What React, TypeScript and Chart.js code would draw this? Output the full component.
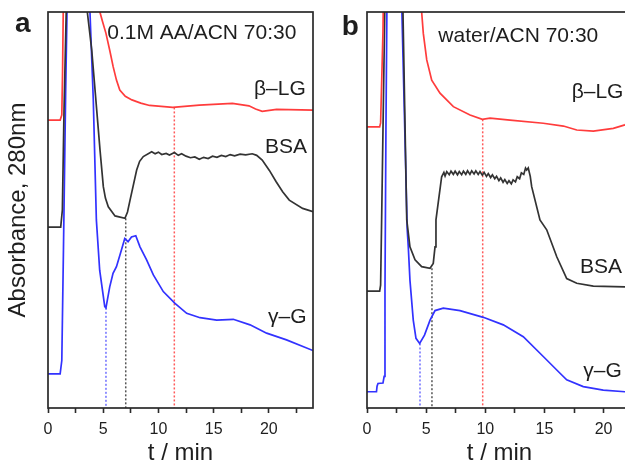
import React, { useEffect, useRef } from 'react';
import { Chart, registerables } from 'chart.js';

Chart.register(...registerables);

// ---------- Panel a (0.1M AA/ACN 70:30) : [t (min), absorbance (a.u.)] ----------
const betaLG_a: [number, number][] = [
  [0, 72.7], [1.1, 72.7], [1.25, 74], [1.32, 85], [1.38, 100], [1.45, 140], [4.3, 140], [4.55, 110],
  [4.7, 100], [4.95, 97.5], [5.25, 94.6], [5.6, 90.2], [5.9, 86.2], [6.2, 82.8], [6.5, 80.3], [7.0, 78.7],
  [7.6, 77.8], [8.4, 77.0], [9.2, 76.4], [11.3, 75.9], [13.7, 76.5], [16.7, 76.9], [18.2, 76.3],
  [18.8, 75.5], [19.4, 74.9], [20.7, 75.4], [24, 75.2],
];
const bsa_a: [number, number][] = [
  [0, 45.7], [1.15, 45.7], [1.3, 50], [1.45, 75], [1.65, 100], [1.75, 130], [3.3, 130], [3.56, 100],
  [3.96, 90.4], [4.41, 75.3], [4.71, 65.2], [5.01, 55.9], [5.2, 53], [5.46, 50.8], [6.07, 48.5], [6.97, 47.9],
  [7.2, 49.5], [7.43, 52.5], [8.03, 60.1], [8.3, 62.3], [8.63, 63.5], [9.39, 64.7], [9.7, 64.2], [10.0, 64.6],
  [10.3, 64.0], [10.7, 64.3], [11.0, 63.9], [11.45, 64.5], [11.8, 63.8], [12.1, 64.2], [12.5, 63.6],
  [12.9, 63.2], [13.3, 63.4], [13.7, 62.8], [14.1, 63.3], [14.5, 63.0], [14.9, 63.6], [15.3, 63.3],
  [15.7, 63.8], [16.1, 63.5], [16.5, 64.0], [16.9, 63.7], [17.4, 64.1], [17.9, 63.9], [18.5, 64.2],
  [18.9, 63.8], [19.4, 62.6], [20.05, 60], [20.65, 57.2], [21.25, 54.6], [21.85, 52.5], [23.06, 50.4],
  [24, 49.6],
];
const gammaG_a: [number, number][] = [
  [0, 8.6], [1.1, 8.6], [1.25, 12], [1.4, 40], [1.6, 80], [1.72, 100], [1.8, 130], [3.6, 130],
  [3.8, 100], [4.1, 78], [4.38, 47.5], [4.68, 34.8], [5.14, 25.6], [5.25, 25.3], [5.59, 30.6],
  [5.89, 34], [6.2, 35.7], [6.65, 39.9], [6.95, 42.8], [7.25, 42], [7.56, 43.2], [7.95, 43.5],
  [8.33, 40.7], [8.93, 37.4], [9.54, 33.6], [10.44, 29.4], [11.5, 26.4], [12.56, 23.9], [13.77, 22.8],
  [15.28, 22.2], [16.78, 22.4], [18.3, 21], [19.8, 18.9], [21.6, 17.2], [24, 14.5],
];
// dotted drop lines: time and curve level where they start
const dropTimes_a = [5.25, 7.04, 11.44];
const dropTops_a = [25.3, 47.9, 75.9];

// ---------- Panel b (water/ACN 70:30) ----------
const betaLG_b: [number, number][] = [
  [0, 71], [1.07, 71], [1.15, 72], [1.22, 80], [1.35, 95], [1.5, 130], [4.3, 130], [4.62, 100],
  [4.76, 94.6], [5.05, 87.9], [5.47, 82.8], [6.17, 79.5], [7.3, 76.1], [8.71, 74], [9.75, 72.9],
  [10.4, 73.2], [12.09, 72.7], [14.9, 71.9], [16.6, 71.2], [17.73, 70.2], [19.13, 69.9], [20.82, 70.6],
  [21.8, 71.5], [22.4, 72.5],
];
const bsa_b: [number, number][] = [
  [0, 29.5], [1.07, 29.5], [1.15, 31], [1.25, 50], [1.4, 80], [1.5, 100], [1.6, 130], [2.8, 130],
  [3.04, 100], [3.36, 47.5], [3.63, 40.7], [4.06, 37.4], [4.62, 35.7], [5.33, 35.3], [5.6, 36.5],
  [5.75, 40.7], [5.83, 47.5], [6.31, 58.4], [6.5, 59.5], [6.6, 58.6], [6.74, 59.7], [6.95, 58.9],
  [7.1, 59.8], [7.3, 59.0], [7.45, 59.8], [7.65, 58.9], [7.8, 59.7], [8.0, 58.9], [8.15, 59.8],
  [8.35, 59.0], [8.5, 59.9], [8.7, 59.0], [8.85, 59.9], [9.05, 59.1], [9.2, 59.9], [9.4, 59.0],
  [9.55, 59.7], [9.75, 58.8], [9.9, 59.5], [10.1, 58.5], [10.25, 59.2], [10.45, 58.2], [10.6, 58.9],
  [10.8, 57.9], [10.95, 58.5], [11.15, 57.4], [11.3, 58.1], [11.5, 57.0], [11.65, 57.7], [11.85, 56.7],
  [12.0, 57.4], [12.2, 56.6], [12.35, 57.6], [12.55, 57.1], [12.7, 58.4], [12.9, 57.9], [13.05, 59.4],
  [13.25, 59.0], [13.4, 60.6], [13.5, 60.1], [13.63, 60.6], [13.8, 58.5], [13.92, 55.9], [14.62, 47.5],
  [15.19, 45], [16.04, 38.2], [16.88, 32.7], [17.73, 31.5], [19.13, 30.8], [21.8, 30.6], [22.4, 30.6],
];
const gammaG_b: [number, number][] = [
  [0, 4.1], [0.8, 4.1], [0.85, 5.5], [0.93, 6.2], [1.35, 6.3], [1.45, 8], [1.52, 30], [1.6, 70],
  [1.68, 100], [1.75, 130], [2.75, 130], [2.95, 100], [3.4, 45], [3.49, 40.7], [3.63, 32.3],
  [3.91, 22.2], [4.14, 17.6], [4.45, 16.3], [4.86, 18.4], [5.33, 22.2], [5.75, 24.6], [6.45, 25.2],
  [7.86, 24.6], [9.83, 22.9], [11.52, 21], [13.21, 18], [14.9, 13], [16.04, 9.6], [16.88, 7.1],
  [18.28, 5.4], [19.97, 4.5], [21.8, 4.1], [22.4, 4.0],
];
const dropTimes_b = [4.48, 5.49, 9.78];
const dropTops_b = [16.3, 35.3, 72.9];

// axis settings
const xMax_a = 24;
const xMax_b = 22.4;
const yMin = 0;
const yMax = 100;
const tickStep = 2.5;
const xTitle = 't / min';
const yTitle = 'Absorbance, 280nm';

// label texts
const condition_a = '0.1M AA/ACN 70:30';
const condition_b = 'water/ACN 70:30';
const seriesNames = ['β–LG', 'BSA', 'γ–G'];

const RED = '#ff3c3c';
const BLACK = '#333333';
const BLUE = '#3232ff';
const DROP_COLORS = ['#6f6fff', '#555555', '#ff5a5a'];
const FONT = "'Liberation Sans', Arial, Helvetica, sans-serif";

type Label = { text: string; t: number; v: number; size: number; bold?: boolean };

function makeConfig(
  series: [number, number][][],
  dropTimes: number[],
  dropTops: number[],
  xMax: number,
  showYTitle: boolean,
  labels: Label[]
): any {
  const colors = [RED, BLACK, BLUE];
  const lineSets = series.map((s, i) => ({
    label: seriesNames[i],
    data: s.map(([x, y]) => ({ x, y })),
    borderColor: colors[i],
    borderWidth: 1.7,
    pointRadius: 0,
    tension: 0,
    fill: false,
    order: 1,
  }));
  const dropSets = dropTimes.map((t, i) => ({
    label: 'drop' + i,
    data: [{ x: t, y: dropTops[i] }, { x: t, y: yMin }],
    borderColor: DROP_COLORS[i],
    borderWidth: 1.5,
    borderDash: [2, 2],
    pointRadius: 0,
    tension: 0,
    fill: false,
    order: 2,
  }));

  const framePlugin = {
    id: 'frameAndLabels',
    afterDraw(chart: any) {
      const { ctx, chartArea: a, scales } = chart;
      ctx.save();
      ctx.strokeStyle = '#2a2a2a';
      ctx.lineWidth = 1.7;
      ctx.strokeRect(a.left, a.top, a.right - a.left, a.bottom - a.top);
      ctx.fillStyle = '#1e1e1e';
      ctx.textBaseline = 'alphabetic';
      ctx.textAlign = 'left';
      for (const l of labels) {
        ctx.font = `${l.bold ? 'bold ' : ''}${l.size}px ${FONT}`;
        ctx.fillText(l.text, scales.x.getPixelForValue(l.t), scales.y.getPixelForValue(l.v));
      }
      ctx.restore();
    },
  };

  return {
    type: 'line',
    data: { datasets: [...dropSets, ...lineSets] },
    plugins: [framePlugin],
    options: {
      responsive: false,
      animation: false,
      devicePixelRatio: 1,
      layout: { padding: { top: 12, right: 7, left: 0, bottom: 0 } },
      plugins: { legend: { display: false }, tooltip: { enabled: false } },
      scales: {
        x: {
          type: 'linear',
          min: 0,
          max: xMax,
          border: { display: false },
          grid: {
            drawOnChartArea: false,
            drawTicks: true,
            tickLength: 5,
            tickWidth: 1.6,
            tickColor: '#2a2a2a',
          },
          ticks: {
            stepSize: tickStep,
            includeBounds: false,
            autoSkip: false,
            maxRotation: 0,
            padding: 7,
            color: '#1e1e1e',
            font: { family: FONT, size: 16 },
            callback: (v: number) => (v % 5 === 0 ? String(v) : ''),
          },
          title: {
            display: true,
            text: xTitle,
            color: '#1e1e1e',
            font: { family: FONT, size: 24, lineHeight: 1.13 },
            padding: { top: 0, bottom: 0 },
          },
          afterFit: (s: any) => {
            s.height = 59;
          },
        },
        y: {
          type: 'linear',
          min: yMin,
          max: yMax,
          border: { display: false },
          grid: { display: false },
          ticks: { display: false },
          title: {
            display: showYTitle,
            text: yTitle,
            color: '#1e1e1e',
            font: { family: FONT, size: 24 },
            padding: { top: 4, bottom: 0 },
          },
          afterFit: (s: any) => {
            s.width = 48;
          },
        },
      },
    },
  };
}

function Panel(props: { config: any; left: number }) {
  const ref = useRef<HTMLCanvasElement | null>(null);
  useEffect(() => {
    if (!ref.current) return;
    const chart = new Chart(ref.current, props.config);
    return () => chart.destroy();
  }, []);
  return (
    <canvas
      ref={ref}
      width={320}
      height={467}
      style={{ position: 'absolute', left: props.left, top: 0, width: 320, height: 467 }}
    />
  );
}

export default function App() {
  const labelsA: Label[] = [
    { text: 'a', t: -3.0, v: 95, size: 28, bold: true },
    { text: condition_a, t: 5.37, v: 93.1, size: 21 },
    { text: seriesNames[0], t: 18.66, v: 79.0, size: 21 },
    { text: seriesNames[1], t: 19.66, v: 64.4, size: 21 },
    { text: seriesNames[2], t: 19.93, v: 21.5, size: 21 },
  ];
  const labelsB: Label[] = [
    { text: 'b', t: -2.14, v: 94.2, size: 28, bold: true },
    { text: condition_b, t: 6.03, v: 92.5, size: 21 },
    { text: seriesNames[0], t: 17.3, v: 78.3, size: 21 },
    { text: seriesNames[1], t: 18.0, v: 34.0, size: 21 },
    { text: seriesNames[2], t: 18.28, v: 7.9, size: 21 },
  ];
  const cfgA = makeConfig([betaLG_a, bsa_a, gammaG_a], dropTimes_a, dropTops_a, xMax_a, true, labelsA);
  const cfgB = makeConfig([betaLG_b, bsa_b, gammaG_b], dropTimes_b, dropTops_b, xMax_b, false, labelsB);
  return (
    <div
      style={{
        position: 'fixed',
        left: 0,
        top: 0,
        width: 625,
        height: 467,
        overflow: 'hidden',
        background: '#ffffff',
      }}
    >
      <Panel config={cfgA} left={0} />
      <Panel config={cfgB} left={319} />
    </div>
  );
}
